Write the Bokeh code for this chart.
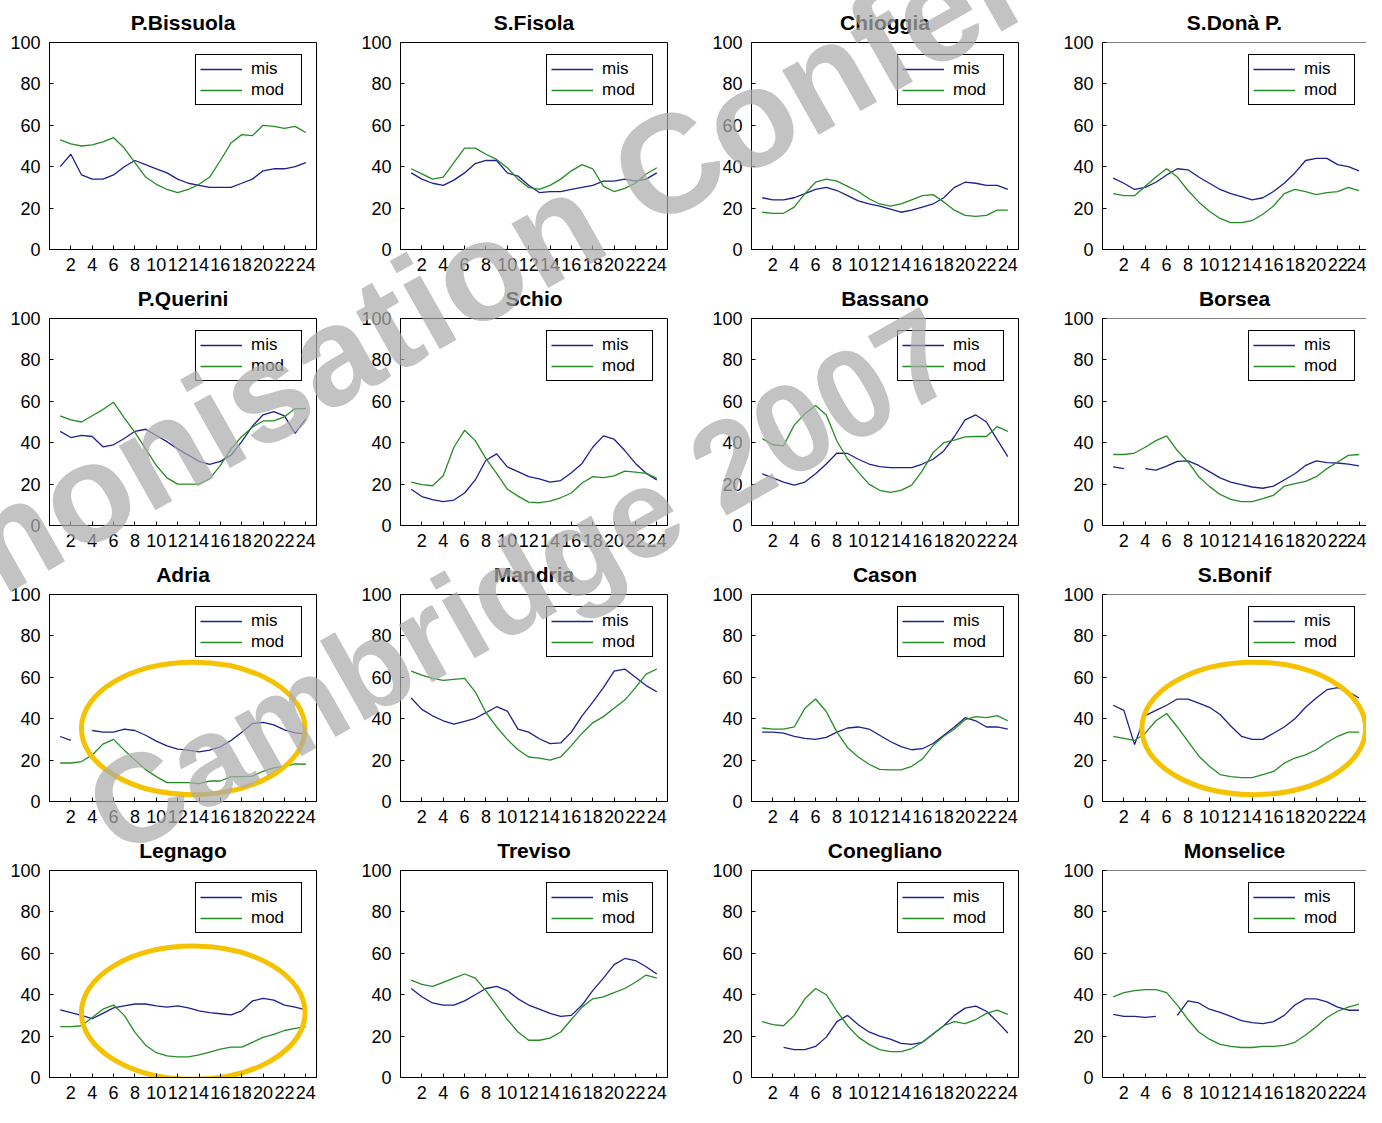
import numpy as np
from bokeh.plotting import figure
from bokeh.layouts import column, row
from bokeh.models import Range1d, Legend, LegendItem, Div, FixedTicker, Span
from bokeh.embed import file_html
from bokeh.resources import INLINE

# ---------------- data ----------------
hours = list(range(1, 25))
x_ticks = list(range(2, 25, 2))
y_ticks = [0, 20, 40, 60, 80, 100]

stations = ["P.Bissuola", "S.Fisola", "Chioggia", "S.Donà P.",
            "P.Querini", "Schio", "Bassano", "Borsea",
            "Adria", "Mandria", "Cason", "S.Bonif",
            "Legnago", "Treviso", "Conegliano", "Monselice"]

pbissuola_mis = [40, 46, 36, 34, 34, 36, 40, 43, 41, 39, 37, 34, 32, 31, 30, 30, 30, 32, 34, 38, 39, 39, 40, 42]
pbissuola_mod = [53, 51, 50, 50.5, 52, 54, 49, 42, 35, 31.5, 29, 27.5, 29, 31.5, 35, 43, 51.5, 55.5, 55, 60, 59.5, 58.5, 59.5, 56.5]

sfisola_mis = [37, 34, 32, 31, 33.5, 37, 41.5, 43, 43, 37, 35.5, 31, 27.5, 28, 28, 29, 30, 31, 33, 33, 34, 33, 34, 37]
sfisola_mod = [39, 36.5, 34, 35, 42, 49, 49, 46, 43.5, 39.5, 34, 30, 29, 31, 34, 38, 41, 39, 30.5, 28, 29.5, 32, 36.5, 39.5]

chioggia_mis = [25, 24, 24, 25, 27, 29, 30, 28.5, 26, 23.5, 22, 21, 19.5, 18, 19, 20.5, 22, 25, 30, 32.5, 32, 31, 31, 29]
chioggia_mod = [18, 17.5, 17.5, 20.5, 27, 32.5, 34, 33, 30.5, 28, 24.5, 22, 21, 22, 24, 26, 26.5, 23, 19, 16.5, 16, 16.5, 19, 19]

sdona_mis = [34.5, 32, 29, 30, 32.5, 36, 39, 38.5, 35, 32, 29, 27, 25.5, 24, 25, 28, 32, 37, 43, 44, 44, 41, 40, 38]
sdona_mod = [27, 26, 26, 30.5, 35, 39, 35, 28.5, 23, 18.5, 15, 13, 13, 14, 17, 21, 27, 29, 28, 26.5, 27.5, 28, 30, 28.5]

pquerini_mis = [45.5, 42.5, 43.5, 43, 38, 39, 42, 45.5, 46.5, 43.5, 40.5, 37, 34, 31, 29.5, 31, 34, 40.5, 48, 53.5, 55, 53, 44.5, 51.5]
pquerini_mod = [53, 51, 50, 53, 56, 59.5, 52, 45, 37, 29, 23, 20, 20, 20, 22.5, 29, 37, 43, 47.5, 50.5, 50.5, 52.5, 56.5, 56.5]

schio_mis = [17.5, 14, 12.5, 11.5, 12.3, 15.7, 22, 31.5, 34.6, 28.3, 26, 23.6, 22.5, 21, 21.7, 25.5, 30, 37.8, 43.3, 41.7, 36.2, 30, 25.2, 22]
schio_mod = [21, 19.7, 19.2, 24, 37.8, 46, 41, 32.3, 25.2, 17.6, 14.2, 11.3, 11, 11.8, 13.4, 15.7, 20.5, 23.6, 23.1, 24, 26.3, 25.8, 25.2, 22.8]

bassano_mis = [25, 23, 21, 19.5, 21, 25, 29.7, 35, 34.8, 32, 29.7, 28.4, 28, 28, 28, 29.7, 32, 36, 43, 51, 53.4, 50, 41.5, 33.3]
bassano_mod = [42, 39, 38.5, 48.5, 54, 58, 53.4, 40.8, 32, 25.8, 20, 17, 16, 17, 19.5, 26.5, 35.2, 40, 41.2, 42.8, 43, 43, 47.8, 45.5]

borsea_mis = [28.3, 27.5, None, 27.5, 26.8, 28.7, 31, 31.2, 29, 26, 23, 21, 19.7, 18.6, 18, 19, 22, 25, 29, 31.2, 30.4, 30.2, 29.6, 28.8]
borsea_mod = [34.3, 34.3, 35, 37.8, 41, 43.3, 36.2, 30.7, 23.6, 18.9, 15, 12.6, 11.5, 11.5, 13, 14.6, 19, 20.2, 21.3, 23.6, 27.5, 30.7, 33.9, 34.3]

adria_mis = [31.4, 29.5, None, 34.3, 33.5, 33.5, 35, 34.3, 32, 29.2, 26.9, 25.3, 24.8, 24, 24.8, 26.4, 29.5, 33.5, 37.7, 38.2, 37, 34.6, 33.2, 32.7]
adria_mod = [18.6, 18.6, 19.3, 22.5, 27.7, 30, 24.8, 20.1, 15.4, 12, 9.1, 9.1, 9.1, 8.6, 9.9, 9.9, 12, 12, 12.3, 14.6, 16.2, 17, 18.2, 18]

mandria_mis = [50, 44.5, 41.4, 39, 37.4, 38.7, 40.2, 42.9, 45.8, 43.7, 35, 33.5, 30.3, 28, 28.3, 33.5, 41.4, 48, 55, 63, 64, 60, 56, 53]
mandria_mod = [63, 61, 59.5, 58.5, 59, 59.5, 53, 43, 36, 30, 25, 21.5, 21, 20, 21.5, 27, 33, 38, 41, 45, 49, 55, 61.5, 64]

cason_mis = [33.5, 33.5, 33, 31.5, 30.5, 30, 31, 33.5, 35.5, 36, 35, 32, 29, 26.5, 25, 25.5, 28, 32, 36, 40.5, 39, 36, 36, 35]
cason_mod = [35.5, 35, 35, 36, 45, 49.5, 43.5, 33.5, 26, 21.5, 18, 15.5, 15.3, 15.3, 17, 20.5, 27, 31.5, 35, 39.5, 41, 40.5, 41.5, 39]

sbonif_mis = [46.5, 44, 27.5, 41.5, 44, 46.5, 49.5, 49.5, 47.5, 45.5, 42, 36.5, 31.5, 30, 30, 33, 36, 40, 45.5, 50, 54, 55, 53, 50]
sbonif_mod = [31.5, 30.5, 29.5, 33, 39, 42.5, 36, 29, 22, 17, 13, 12, 11.5, 11.5, 13, 14.5, 18.5, 21, 22.5, 25, 28.5, 31.5, 33.5, 33.5]

legnago_mis = [32.7, 31.3, 30, 28.4, 31, 33.6, 34.6, 35.5, 35.5, 34.6, 34, 34.6, 33.6, 32.2, 31.3, 30.8, 30.3, 32.2, 37, 38.2, 37.4, 35, 34, 32.7]
legnago_mod = [24.6, 24.6, 25, 29, 33, 35, 30, 21.8, 15.6, 12, 10.4, 10, 10, 10.9, 12.3, 13.7, 14.7, 14.7, 17, 19.4, 20.8, 22.7, 23.7, 24.6]

treviso_mis = [43, 39, 36, 35, 35, 37, 40, 43, 44, 42, 38, 35, 33, 31, 29.5, 30, 35, 42, 48, 54.5, 57.5, 56.5, 53.5, 50]
treviso_mod = [47, 45, 44, 46, 48, 50, 48, 42, 35, 28, 22, 18, 18, 19, 22, 28, 34, 38, 39, 41, 43, 46, 49.5, 48]

conegliano_mis = [18, None, 14.5, 13.5, 13.5, 15, 19.5, 27, 30, 25.5, 22, 20, 18.5, 16.5, 16, 17, 21, 25, 30, 33.5, 34.5, 32, 27, 21.5]
conegliano_mod = [27, 25.5, 25, 30, 38, 43, 40, 32, 25, 19.5, 16, 13.5, 12.5, 12.5, 14, 17, 21, 25, 27, 26, 28, 31, 32.5, 30.5]

monselice_mis = [30.5, 29.5, 29.5, 29, 29.5, None, 30, 37, 36, 33, 31.5, 29.5, 27.5, 26.5, 26, 27, 30, 35, 38, 38, 36.5, 34, 32.5, 32.5]
monselice_mod = [39, 41, 42, 42.5, 42.5, 41, 35, 28, 22, 18.5, 16, 15, 14.5, 14.5, 15, 15, 15.5, 17, 20.5, 24.5, 29, 32, 34, 35.5]

mis_series = [pbissuola_mis, sfisola_mis, chioggia_mis, sdona_mis,
              pquerini_mis, schio_mis, bassano_mis, borsea_mis,
              adria_mis, mandria_mis, cason_mis, sbonif_mis,
              legnago_mis, treviso_mis, conegliano_mis, monselice_mis]
mod_series = [pbissuola_mod, sfisola_mod, chioggia_mod, sdona_mod,
              pquerini_mod, schio_mod, bassano_mod, borsea_mod,
              adria_mod, mandria_mod, cason_mod, sbonif_mod,
              legnago_mod, treviso_mod, conegliano_mod, monselice_mod]

# highlighted panels (yellow ellipses): centre hour, centre value, width (hours), height (value units)
ellipse_station = ["Adria", "S.Bonif", "Legnago"]
ellipse_cx = [13.46, 14.15, 13.46]
ellipse_cy = [35.3, 35.3, 31.3]
ellipse_w = [20.94, 20.94, 20.94]
ellipse_h = [64.0, 64.0, 64.4]

# ---------------- styling ----------------
FONT = "Liberation Sans"
MIS_COLOR = "#1f1f8f"
MOD_COLOR = "#268c26"
ELL_COLOR = "#f5c200"
SX = 1366 / 1382
SY = 1104 / 1120

COL_W = [351, 351, 351, 313]
ROW_H = 276
BL, BT, BB = 49, 41, 27


def make_panel(idx):
    name = stations[idx]
    col = idx % 4
    x_end = 25 if col < 3 else 24.7
    fw = 267 if col < 3 else 264
    w = COL_W[col]
    br = w - BL - fw
    p = figure(width=w, height=ROW_H, x_range=Range1d(0, x_end), y_range=Range1d(0, 100),
               output_backend="svg", toolbar_location=None, tools="",
               min_border_left=BL, min_border_right=br, min_border_top=BT, min_border_bottom=BB,
               title=name)
    p.title.align = "center"
    p.title.text_font = FONT
    p.title.text_font_size = "21px"
    p.title.text_font_style = "bold"
    p.title.text_color = "black"
    p.title.standoff = 17
    p.title.offset = -5

    p.grid.visible = False
    if col < 3:
        p.outline_line_color = "black"
        p.outline_line_width = 1
        p.outline_line_alpha = 1
    else:
        # right edge of the last column is cut off by the page: only the top border
        p.outline_line_color = None
        p.add_layout(Span(location=100, dimension="width", line_color="black", line_width=1))
    p.background_fill_color = "white"
    p.border_fill_color = "white"

    p.xaxis.ticker = FixedTicker(ticks=x_ticks)
    p.yaxis.ticker = FixedTicker(ticks=y_ticks)
    for ax in (p.xaxis, p.yaxis):
        ax.major_label_text_font = FONT
        ax.major_label_text_font_size = "18px"
        ax.major_label_text_color = "black"
        ax.major_tick_in = 4
        ax.major_tick_out = 0
        ax.minor_tick_line_color = None
        ax.axis_line_color = "black"
        ax.major_tick_line_color = "black"
    p.xaxis.major_label_standoff = 8
    p.yaxis.major_label_standoff = 9

    mis = np.array(mis_series[idx], dtype=float)
    mod = np.array(mod_series[idx], dtype=float)
    r1 = p.line(hours, mis, line_color=MIS_COLOR, line_width=1.3)
    r2 = p.line(hours, mod, line_color=MOD_COLOR, line_width=1.3)

    if name in ellipse_station:
        k = ellipse_station.index(name)
        p.ellipse(x=[ellipse_cx[k]], y=[ellipse_cy[k]], width=[ellipse_w[k]], height=[ellipse_h[k]],
                  fill_color=None, line_color=ELL_COLOR, line_width=5)

    leg = Legend(items=[LegendItem(label="mis", renderers=[r1]),
                        LegendItem(label="mod", renderers=[r2])],
                 location=(146, 144))
    leg.label_text_font = FONT
    leg.label_text_font_size = "17px"
    leg.label_text_color = "black"
    leg.border_line_color = "black"
    leg.border_line_width = 1
    leg.border_line_alpha = 1
    leg.background_fill_color = "white"
    leg.background_fill_alpha = 1
    leg.glyph_width = 42
    leg.glyph_height = 18
    leg.label_height = 18
    leg.label_width = 46
    leg.spacing = 1
    leg.padding = 4
    leg.label_standoff = 9
    p.add_layout(leg)
    return p


rows = []
for r in range(4):
    rows.append(row(*[make_panel(r * 4 + c) for c in range(4)]))

# ---------------- watermark ----------------
wm_lines = ["Harmonisation Conference", "Cambridge 2007"]
wm_cx = [517, 523]
wm_cy = [250, 585]
wm_size = [140, 126]
wm_angle = -29.5

html = ""
for t, cx, cy, fs in zip(wm_lines, wm_cx, wm_cy, wm_size):
    html += ('<div style="position:absolute;left:%dpx;top:%dpx;'
             'transform:translate(-50%%,-50%%) rotate(%.1fdeg);white-space:nowrap;'
             "font-family:'Liberation Sans',Arial,sans-serif;font-weight:bold;font-size:%dpx;"
             'line-height:1;color:rgba(172,172,172,0.72);pointer-events:none;">%s</div>'
             % (round(cx * SX), round(cy * SY), wm_angle, fs, t))

wm = Div(text=html, width=1, height=1,
         styles={"position": "absolute", "left": "0px", "top": "0px", "overflow": "visible",
                 "z-index": "10", "pointer-events": "none"})

layout = column(*rows, wm)

open("out.html", "w").write(file_html(layout, INLINE))
